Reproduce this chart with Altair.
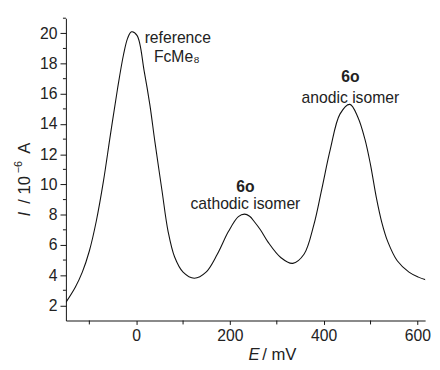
import altair as alt
import pandas as pd

# Curve (E in mV, I in 10^-6 A)
E_mV = [-150, -130, -115, -100, -85, -70, -55, -40, -27, -18, -10, 2, 17, 29, 40, 55, 68, 82,
        100, 124, 149, 173, 197, 218, 231, 242, 253, 265, 281, 309, 334, 358, 379, 396, 414,
        435, 456, 473, 488, 500, 512, 524, 537, 557, 582, 602, 627]
I_uA = [2.2, 3.2, 4.2, 5.6, 7.6, 10.2, 13.3, 16.3, 18.6, 19.7, 20.1, 19.85, 17.5,
        15.3, 12.8, 9.6, 6.9, 5.2, 4.2, 3.8, 4.2, 5.38, 6.9, 7.87, 8.04, 7.9, 7.5, 7.0, 6.2,
        5.15, 4.78, 5.38, 7.33, 9.7, 12.3, 14.67, 15.3, 14.45, 13.0, 11.3, 9.2, 7.5, 6.2,
        4.95, 4.2, 3.87, 3.6]

# Annotations
ann_text = ["reference", "FcMe\u2088", "cathodic isomer", "anodic isomer"]
ann_x = [88.7, 86.6, 233, 457]
ann_y = [19.7, 18.4, 8.73, 15.74]
bold_text = ["6o", "6o"]
bold_x = [233, 457]
bold_y = [9.83, 17.1]

x_major = [0, 200, 400, 600]
x_minor = [-100, 100, 300, 500]
y_major = [2, 4, 6, 8, 10, 12, 14, 16, 18, 20]
y_minor = [3, 5, 7, 9, 11, 13, 15, 17, 19, 21]

FONT = "Liberation Sans"
W, H = 366, 308

curve = pd.DataFrame({"E": E_mV, "I": I_uA})
xs = alt.Scale(domain=[-150, 616.5], nice=False, zero=False)
ys = alt.Scale(domain=[1, 21], nice=False, zero=False)

x_axis = alt.Axis(values=x_major, title=None, grid=False, labelOverlap=False,
                  tickSize=4, labelPadding=3, labelFlush=False)
y_axis = alt.Axis(values=y_major, title=None, grid=False, labelOverlap=False,
                  tickSize=6, labelPadding=3, labelFlush=False, labelSeparation=0)


def X(field):
    return alt.X(field, type="quantitative", scale=xs, axis=x_axis)


def Y(field):
    return alt.Y(field, type="quantitative", scale=ys, axis=y_axis)


line = alt.Chart(curve).mark_line(color="#111", strokeWidth=1.1, interpolate="catmull-rom",
                                  clip=True).encode(x=X("E"), y=Y("I"))

xminor = alt.Chart(pd.DataFrame({"v": x_minor})).mark_rule(color="#111", strokeWidth=1).encode(
    x=X("v"), y=alt.value(H), y2=alt.value(H + 4))
yminor = alt.Chart(pd.DataFrame({"v": y_minor})).mark_rule(color="#111", strokeWidth=1).encode(
    y=Y("v"), x=alt.value(0), x2=alt.value(-3))

ann = alt.Chart(pd.DataFrame({"t": ann_text, "x": ann_x, "y": ann_y})).mark_text(
    font=FONT, fontSize=16, color="#222", baseline="middle", align="center").encode(
    x=X("x"), y=Y("y"), text="t:N")

bold = alt.Chart(pd.DataFrame({"t": bold_text, "x": bold_x, "y": bold_y})).mark_text(
    font=FONT, fontSize=16, fontWeight="bold", color="#222", baseline="middle",
    align="center").encode(x=X("x"), y=Y("y"), text="t:N")


def label(text, x, y, size=17, style="normal", angle=0, align="left", baseline="alphabetic"):
    return alt.Chart(pd.DataFrame({"t": [text]})).mark_text(
        font=FONT, fontSize=size, fontStyle=style, color="#222", angle=angle,
        align=align, baseline=baseline).encode(
        x=alt.value(x), y=alt.value(y), text="t:N")


titles = [
    label("E", 186, 348, style="italic"),
    label("/ mV", 200, 348),
    label("I", -42, 202, style="italic", angle=270, baseline="middle"),
    label("/ 10", -42, 189, angle=270, baseline="middle"),
    label("\u22126", -48, 158, size=11, angle=270, baseline="middle"),
    label("A", -42, 138, angle=270, baseline="middle"),
]

chart = alt.layer(line, xminor, yminor, ann, bold, *titles).properties(
    width=W, height=H,
    autosize=alt.AutoSizeParams(type="none"),
    padding={"left": 59, "top": 7, "right": 7, "bottom": 46},
).configure_view(stroke=None).configure_axis(
    domainColor="#111", tickColor="#111", labelColor="#222", labelFont=FONT,
    labelFontSize=16, domainWidth=1, tickWidth=1, labelOverlap=False,
)

chart.save("out.html", embed_options={"renderer": "svg", "actions": False})
